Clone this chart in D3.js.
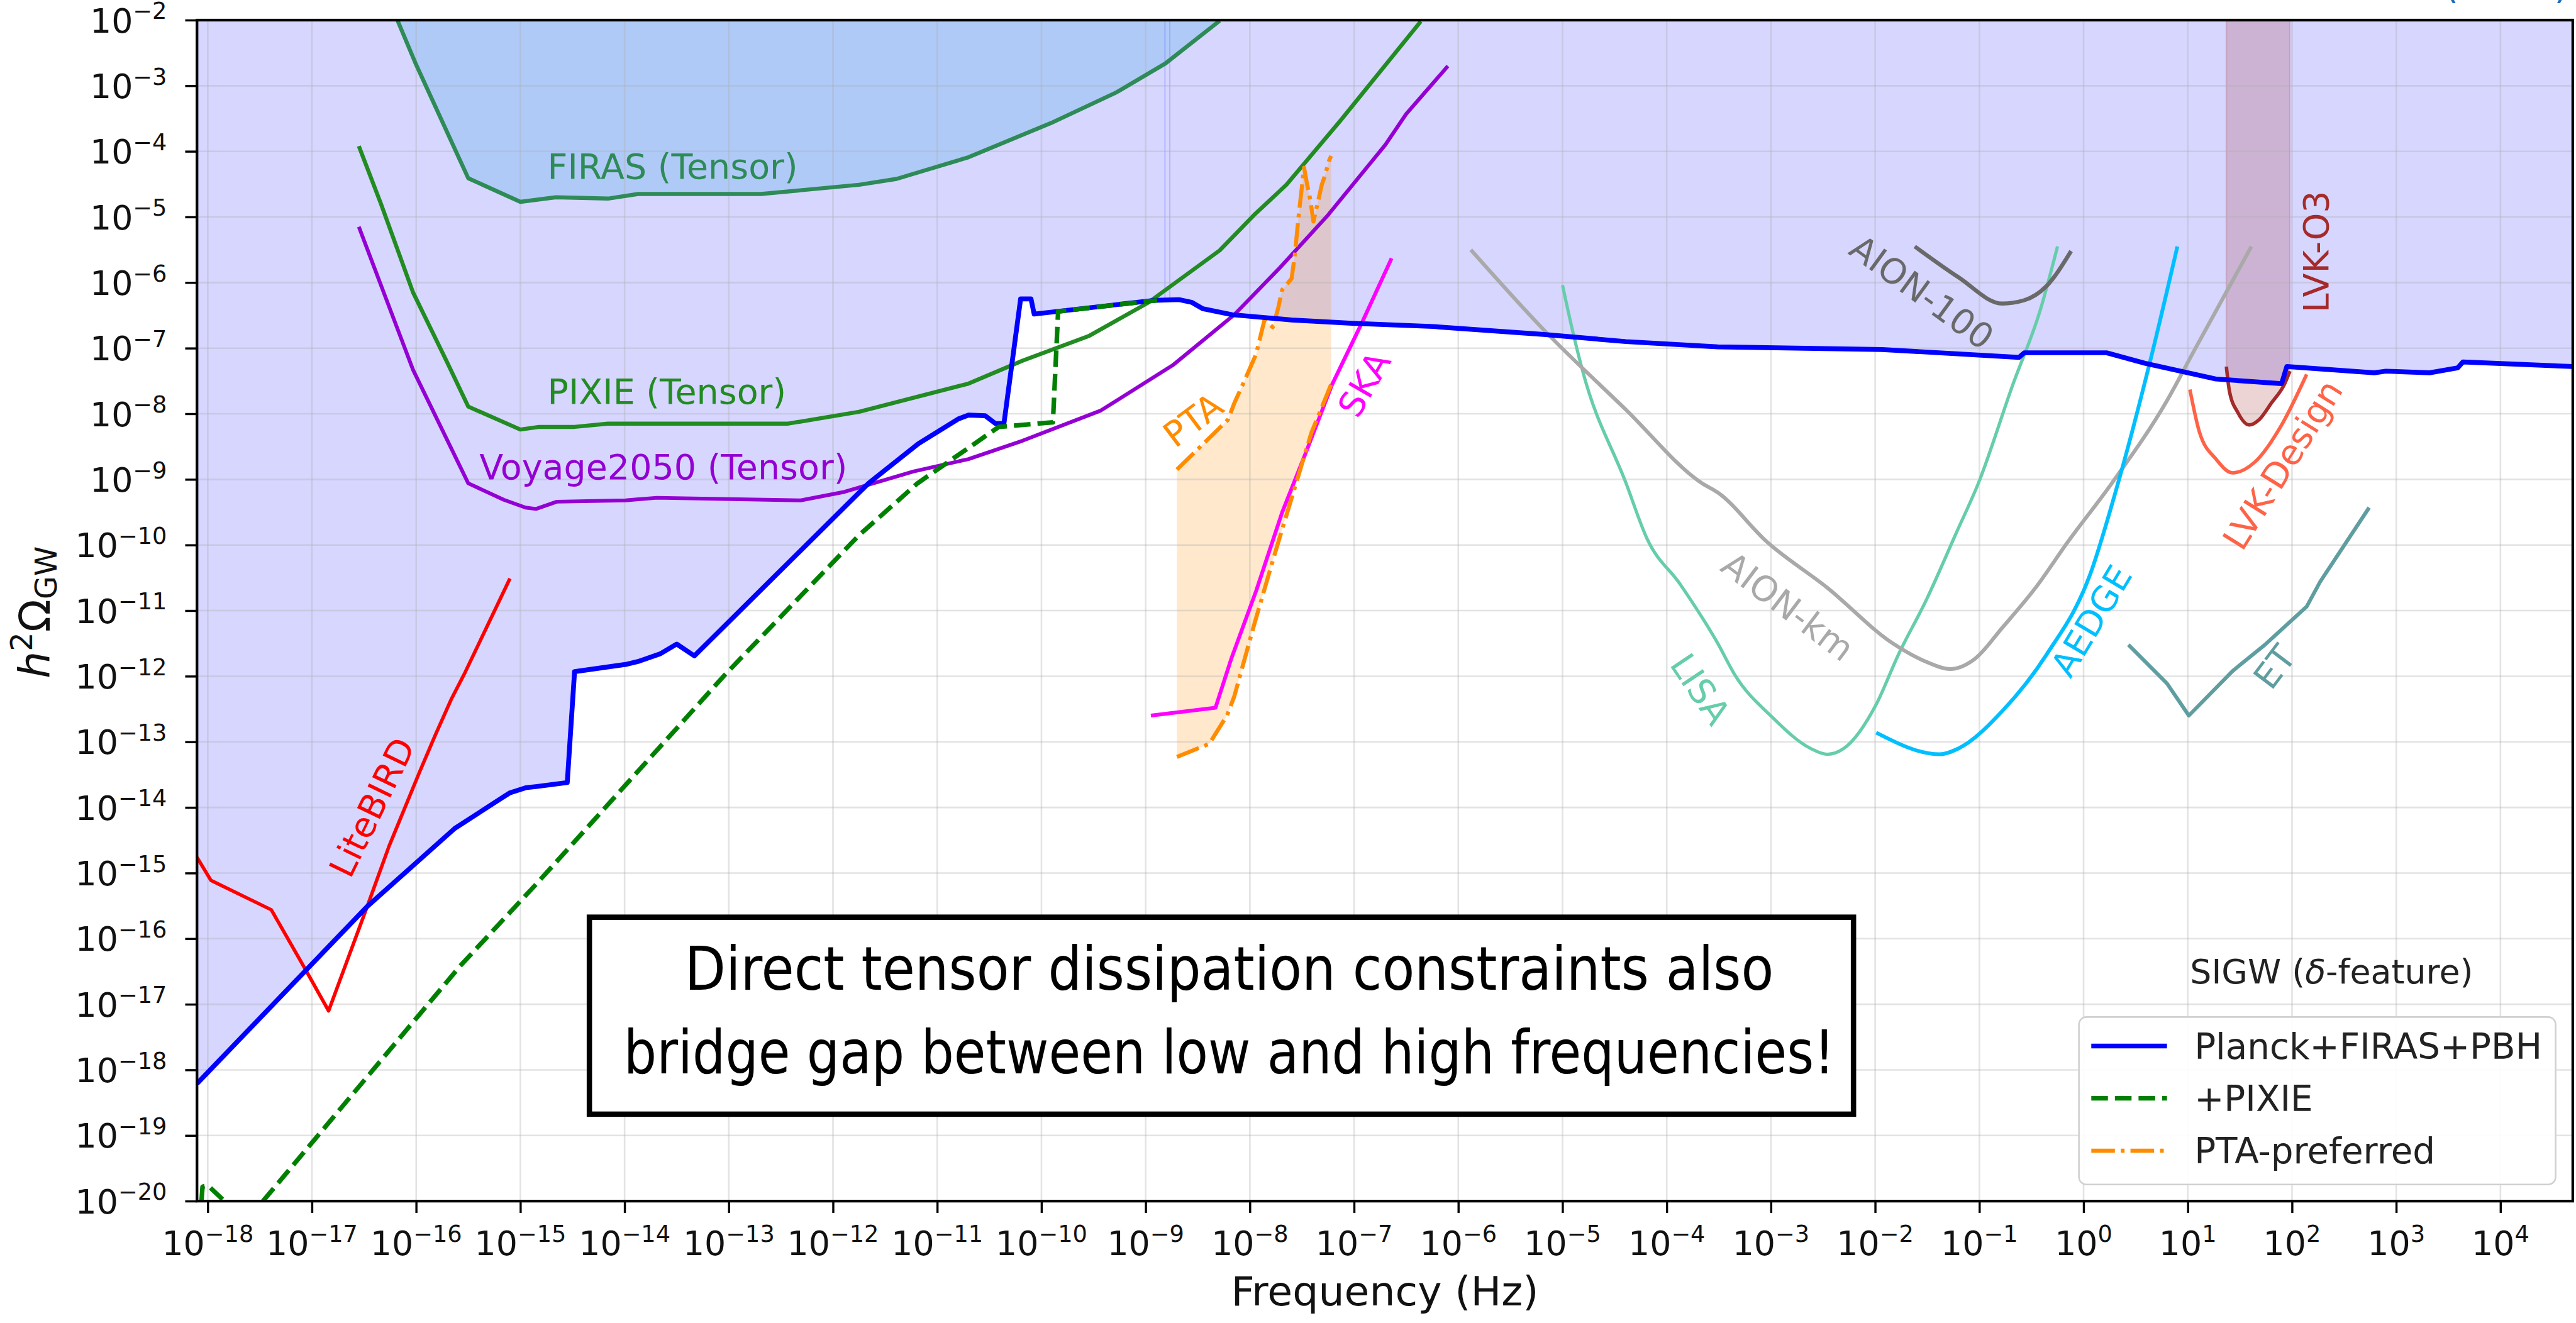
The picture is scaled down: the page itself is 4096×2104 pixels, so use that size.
<!DOCTYPE html>
<html>
<head>
<meta charset="utf-8">
<script src="https://cdn.jsdelivr.net/npm/d3@7"></script>
<style>
  html, body { margin: 0; padding: 0; background: #fff; }
  svg { display: block; }
  text { font-family: "DejaVu Sans", sans-serif; }
</style>
</head>
<body>
<div id="chart"></div>
<script>
// every point is [log10 f (Hz), log10 h^2 Omega_GW]
const planckFirasPbh = [
  [-18.103, -18.21], [-16.47, -15.51], [-15.63, -14.32], [-15.105, -13.78], [-14.95, -13.7],
  [-14.84, -13.68], [-14.55, -13.62], [-14.51, -12.65], [-14.48, -11.93], [-13.99, -11.82],
  [-13.86, -11.77], [-13.66, -11.66], [-13.5, -11.51], [-13.33, -11.69], [-11.66, -9.06],
  [-11.18, -8.455], [-10.8, -8.08], [-10.7, -8.02], [-10.54, -8.03], [-10.44, -8.15],
  [-10.36, -8.15], [-10.2, -6.25], [-10.1, -6.25], [-10.07, -6.48], [-8.91, -6.27],
  [-8.68, -6.26], [-8.56, -6.3], [-8.45, -6.4], [-8.17, -6.49], [-7.6, -6.57],
  [-7.02, -6.62], [-6.24, -6.67], [-5.18, -6.79], [-4.39, -6.9], [-3.51, -6.98],
  [-1.935, -7.02], [-0.62, -7.14], [-0.57, -7.07], [0.22, -7.07], [0.59, -7.23],
  [1.27, -7.47], [1.9, -7.54], [1.95, -7.28], [2.79, -7.375], [2.9, -7.35],
  [3.32, -7.375], [3.59, -7.3], [3.64, -7.21], [4.694, -7.28]
];
const pixieDashed = [
  [-17.47, -20.0], [-15.58, -16.42], [-14.843, -15.16], [-13.036, -11.976], [-11.75, -9.85],
  [-11.19, -9.06], [-10.41, -8.2], [-9.89, -8.13], [-9.84, -6.44], [-8.89, -6.27]
];
const pixieDashedTail = [[-18.06, -20.0], [-18.05, -19.78], [-18.0, -19.76], [-17.84, -20.0]];
const firasTensor = [
  [-16.18, -2.0], [-16.0, -2.68], [-15.5, -4.41], [-15.0, -4.77], [-14.66, -4.7],
  [-14.16, -4.72], [-13.87, -4.65], [-12.69, -4.65], [-11.75, -4.51], [-11.39, -4.42],
  [-10.7, -4.09], [-9.91, -3.57], [-9.28, -3.1], [-8.81, -2.66], [-8.29, -2.01]
];
const pixieTensor = [
  [-16.55, -3.92], [-16.34, -4.79], [-16.03, -6.15], [-15.71, -7.19], [-15.5, -7.89],
  [-15.0, -8.24], [-14.82, -8.2], [-14.48, -8.2], [-14.16, -8.15], [-12.43, -8.15],
  [-11.75, -7.97], [-10.7, -7.54], [-10.18, -7.19], [-9.54, -6.81], [-8.98, -6.31],
  [-8.29, -5.51], [-7.96, -4.97], [-7.65, -4.51], [-7.13, -3.53], [-6.36, -2.02]
];
const voyage2050 = [
  [-16.55, -5.15], [-16.03, -7.33], [-15.5, -9.06], [-15.16, -9.31], [-14.95, -9.43],
  [-14.85, -9.45], [-14.65, -9.34], [-13.99, -9.32], [-13.69, -9.28], [-12.31, -9.32],
  [-11.89, -9.19], [-11.23, -8.88], [-10.7, -8.69], [-10.18, -8.41], [-9.43, -7.95],
  [-8.74, -7.26], [-8.15, -6.49], [-7.71, -5.77], [-7.25, -4.97], [-6.7, -3.9],
  [-6.5, -3.43], [-6.1, -2.7]
];
const liteBird = [
  [-18.103, -14.76], [-17.97, -15.11], [-17.39, -15.56], [-17.08, -16.42], [-16.84, -17.1],
  [-16.47, -15.51], [-16.26, -14.59], [-15.97, -13.47], [-15.82, -12.91], [-15.66, -12.34],
  [-15.53, -11.94], [-15.1, -10.51]
];
const ptaUpper = [
  [-8.7, -8.85], [-8.21, -8.09], [-8.15, -7.84], [-8.05, -7.49], [-7.94, -7.09],
  [-7.86, -6.57], [-7.78, -6.68], [-7.73, -6.4], [-7.69, -6.11], [-7.6, -5.94],
  [-7.57, -5.6], [-7.53, -4.95], [-7.48, -4.25], [-7.45, -4.51], [-7.42, -4.74],
  [-7.39, -5.07], [-7.35, -4.79], [-7.31, -4.51], [-7.28, -4.37], [-7.24, -4.14], [-7.22, -4.07]
];
const ptaLower = [
  [-8.7, -13.23], [-8.39, -13.03], [-8.22, -12.6], [-8.15, -12.31], [-7.96, -11.22],
  [-7.76, -10.13], [-7.53, -8.92], [-7.41, -8.29], [-7.22, -7.55]
];
const ska = [
  [-8.95, -12.6], [-8.33, -12.48], [-8.18, -11.74], [-7.94, -10.7], [-7.69, -9.5],
  [-7.46, -8.58], [-7.21, -7.55], [-6.93, -6.63], [-6.64, -5.63]
];
const lisa = [
  [-5.0, -6.04], [-4.92, -6.62], [-4.81, -7.33], [-4.39, -9.06], [-4.19, -9.9],
  [-3.87, -10.6], [-3.51, -11.5], [-3.35, -11.97], [-2.99, -12.62], [-2.62, -13.1],
  [-2.46, -13.19], [-2.3, -13.1], [-1.99, -12.43], [-1.78, -11.68], [-1.51, -10.84],
  [-1.22, -9.81], [-1.01, -9.06], [-0.68, -7.56], [-0.41, -6.39], [-0.25, -5.45]
];
const aionKm = [
  [-5.88, -5.5], [-5.18, -6.72], [-4.39, -7.94], [-3.66, -9.06], [-3.51, -9.2],
  [-3.04, -9.95], [-2.46, -10.65], [-1.83, -11.5], [-1.51, -11.78], [-1.28, -11.89],
  [-1.04, -11.73], [-0.78, -11.26], [-0.46, -10.65], [-0.15, -9.95], [0.27, -9.06],
  [0.8, -7.8], [1.06, -7.04], [1.61, -5.45]
];
const aion100 = [[-1.62, -5.45], [-1.2, -5.92], [-0.78, -6.32], [-0.57, -6.27], [-0.36, -6.06], [-0.12, -5.52]];
const aedge = [
  [-1.99, -12.86], [-1.38, -13.19], [-1.2, -13.1], [-0.78, -12.53], [-0.36, -11.68],
  [0.06, -10.46], [0.33, -9.06], [0.64, -7.19], [0.9, -5.45]
];
const et = [[0.43, -11.52], [0.8, -12.11], [1.01, -12.6], [1.43, -11.92], [1.74, -11.52], [2.14, -10.94], [2.27, -10.56], [2.74, -9.43]];
const lvkDesign = [[1.02, -7.63], [1.11, -8.27], [1.27, -8.69], [1.43, -8.9], [1.64, -8.74], [1.9, -8.17], [2.14, -7.4]];
const lvkO3 = [[1.37, -7.28], [1.4, -7.66], [1.48, -7.98], [1.59, -8.17], [1.69, -8.08], [1.8, -7.84], [1.93, -7.54], [1.98, -7.35]];
// faint seams of the shaded region
const fillSeams = [[-8.815, -6.26], [-8.768, -6.26]];

const xTickExps = [-18, -17, -16, -15, -14, -13, -12, -11, -10, -9, -8, -7, -6, -5, -4, -3, -2, -1, 0, 1, 2, 3, 4];
const yTickExps = [-20, -19, -18, -17, -16, -15, -14, -13, -12, -11, -10, -9, -8, -7, -6, -5, -4, -3, -2];
const xDomainExp = [-18.103, 4.694];
const yDomainExp = [-20, -2];

const legendLabels = ['Planck+FIRAS+PBH', '+PIXIE', 'PTA-preferred'];
const noteLines = ['Direct tensor dissipation constraints also', 'bridge gap between low and high frequencies!'];

// ---- layout (in reference pixels, scaled down as a whole) ----
const svgWidth = 4096;
const svgHeight = 2104;
const k = svgWidth / 4799;
const plot = { left: 367, right: 4793, top: 37.5, bottom: 2238 };

const svg = d3.select('#chart').append('svg').attr('width', svgWidth).attr('height', svgHeight);
const root = svg.append('g').attr('transform', `scale(${k})`);

const x = d3.scaleLog().domain(xDomainExp.map((e) => 10 ** e)).range([plot.left, plot.right]);
const y = d3.scaleLog().domain(yDomainExp.map((e) => 10 ** e)).range([plot.bottom, plot.top]);
const px = (d) => x(10 ** d[0]);
const py = (d) => y(10 ** d[1]);
const yTop = y(10 ** yDomainExp[1]);

root.append('clipPath').attr('id', 'plotClip')
  .append('rect')
  .attr('x', plot.left).attr('y', plot.top)
  .attr('width', plot.right - plot.left).attr('height', plot.bottom - plot.top);

const fills = root.append('g').attr('clip-path', 'url(#plotClip)');
const topArea = d3.area().x(px).y0(yTop).y1(py);
const line = d3.line().x(px).y(py);
const smoothLine = d3.line().x(px).y(py).curve(d3.curveMonotoneX);

fills.append('path').attr('d', topArea(planckFirasPbh)).attr('fill', 'rgba(0,0,255,0.16)');
fills.append('path').attr('d', topArea(firasTensor)).attr('fill', 'rgba(100,180,230,0.33)');
fills.append('path')
  .attr('d', line(ptaUpper.concat(ptaLower.slice().reverse())) + 'Z')
  .attr('fill', 'rgba(255,140,0,0.2)');
fills.append('path').attr('d', topArea.curve(d3.curveMonotoneX)(lvkO3))
  .attr('fill', 'rgba(165,42,42,0.2)')
  .attr('stroke', 'rgba(165,42,42,0.15)').attr('stroke-width', 3);
fills.selectAll('.seam').data(fillSeams).enter().append('line')
  .attr('x1', px).attr('x2', px).attr('y1', yTop).attr('y2', py)
  .attr('stroke', 'rgba(80,80,255,0.3)').attr('stroke-width', 2);

// grid
const grid = root.append('g').attr('clip-path', 'url(#plotClip)');
grid.selectAll('.gx').data(xTickExps).enter().append('line')
  .attr('x1', (e) => x(10 ** e)).attr('x2', (e) => x(10 ** e))
  .attr('y1', plot.top).attr('y2', plot.bottom)
  .attr('stroke', '#b0b0b0').attr('stroke-opacity', 0.35).attr('stroke-width', 3);
grid.selectAll('.gy').data(yTickExps).enter().append('line')
  .attr('y1', (e) => y(10 ** e)).attr('y2', (e) => y(10 ** e))
  .attr('x1', plot.left).attr('x2', plot.right)
  .attr('stroke', '#b0b0b0').attr('stroke-opacity', 0.35).attr('stroke-width', 3);

// curves
const curves = [
  { data: firasTensor, color: '#2e8b57', width: 7.5 },
  { data: pixieTensor, color: '#228b22', width: 7.5 },
  { data: voyage2050, color: '#9400d3', width: 7 },
  { data: liteBird, color: '#ff0000', width: 6.5 },
  { data: lisa, color: '#66cdaa', width: 6, smooth: true },
  { data: aionKm, color: '#a9a9a9', width: 7, smooth: true },
  { data: aion100, color: '#696969', width: 7.5, smooth: true },
  { data: aedge, color: '#00bfff', width: 7, smooth: true },
  { data: et, color: '#5f9ea0', width: 7 },
  { data: lvkDesign, color: '#ff6347', width: 6.5, smooth: true },
  { data: lvkO3, color: '#a52a2a', width: 6.5, smooth: true },
  { data: ska, color: '#ff00ff', width: 7 },
  { data: ptaUpper, color: '#ff8c00', width: 7.5, dash: '44,11,7,11' },
  { data: ptaLower, color: '#ff8c00', width: 7.5, dash: '44,11,7,11' },
  { data: planckFirasPbh, color: '#0000ff', width: 9 },
  { data: pixieDashed, color: '#008000', width: 8.5, dash: '31,13' },
  { data: pixieDashedTail, color: '#008000', width: 8.5, dash: '31,13' }
];
const lines = root.append('g').attr('clip-path', 'url(#plotClip)');
curves.forEach((c) => {
  lines.append('path').attr('d', (c.smooth ? smoothLine : line)(c.data))
    .attr('fill', 'none').attr('stroke', c.color).attr('stroke-width', c.width)
    .attr('stroke-linejoin', 'round')
    .attr('stroke-dasharray', c.dash || null);
});

// curve labels
const curveLabels = [
  { text: 'FIRAS (Tensor)', at: [-14.74, -4.417], angle: 0, color: '#2e8b57', anchor: 'start' },
  { text: 'PIXIE (Tensor)', at: [-14.74, -7.845], angle: 0, color: '#228b22', anchor: 'start' },
  { text: 'Voyage2050 (Tensor)', at: [-15.394, -8.998], angle: 0, color: '#9400d3', anchor: 'start' },
  { text: 'LiteBIRD', at: [-16.42, -14.0], angle: -64, color: '#ff0000' },
  { text: 'PTA', at: [-8.543, -8.098], angle: -37, color: '#ff8c00' },
  { text: 'SKA', at: [-6.9, -7.55], angle: -60, color: '#ff00ff' },
  { text: 'AION-100', at: [-1.554, -6.15], angle: 36, color: '#696969' },
  { text: 'LVK-O3', at: [2.232, -5.53], angle: -90, color: '#a52a2a' },
  { text: 'LVK-Design', at: [1.912, -8.777], angle: -58, color: '#ff6347' },
  { text: 'AION-km', at: [-2.84, -10.94], angle: 37, color: '#a9a9a9' },
  { text: 'LISA', at: [-3.68, -12.2], angle: 56, color: '#66cdaa' },
  { text: 'AEDGE', at: [0.078, -11.16], angle: -59, color: '#00bfff' },
  { text: 'ET', at: [1.835, -11.86], angle: -53, color: '#5f9ea0' }
];
curveLabels.forEach((l) => {
  const t = root.append('text')
    .attr('transform', `translate(${px(l.at)},${py(l.at)}) rotate(${l.angle})`)
    .attr('font-size', 65).attr('fill', l.color)
    .attr('text-anchor', l.anchor || 'middle')
    .text(l.text);
  if (!l.anchor) t.attr('dominant-baseline', 'central');
});

// spines and ticks
const axisColor = '#000';
const yAxis = d3.axisLeft(y).tickValues(yTickExps.map((e) => 10 ** e)).tickSize(22).tickFormat('');
const xAxis = d3.axisBottom(x).tickValues(xTickExps.map((e) => 10 ** e)).tickSize(22).tickFormat('');
const gy = root.append('g').attr('transform', `translate(${plot.left},0)`).call(yAxis);
const gx = root.append('g').attr('transform', `translate(0,${plot.bottom})`).call(xAxis);
[gx, gy].forEach((g) => {
  g.select('.domain').remove();
  g.selectAll('.tick line').attr('stroke', axisColor).attr('stroke-width', 4);
});
root.append('rect')
  .attr('x', plot.left).attr('y', plot.top)
  .attr('width', plot.right - plot.left).attr('height', plot.bottom - plot.top)
  .attr('fill', 'none').attr('stroke', axisColor).attr('stroke-width', 5);

function powerLabel(sel, e) {
  sel.append('tspan').text('10');
  sel.append('tspan').attr('font-size', 43).attr('dy', -25)
    .text(e < 0 ? '\u2212' + (-e) : String(e));
}
root.selectAll('.ylab').data(yTickExps).enter().append('text')
  .attr('x', 311).attr('y', (e) => y(10 ** e) + 23)
  .attr('font-size', 63).attr('text-anchor', 'end').attr('fill', '#111')
  .each(function (e) { powerLabel(d3.select(this), e); });
root.selectAll('.xlab').data(xTickExps).enter().append('text')
  .attr('x', (e) => x(10 ** e)).attr('y', 2339)
  .attr('font-size', 63).attr('text-anchor', 'middle').attr('fill', '#111')
  .each(function (e) { powerLabel(d3.select(this), e); });

// axis titles
root.append('text')
  .attr('x', (plot.left + plot.right) / 2).attr('y', 2432)
  .attr('font-size', 76).attr('text-anchor', 'middle').attr('fill', '#111')
  .text('Frequency (Hz)');
const yTitle = root.append('text')
  .attr('transform', 'translate(92,1141) rotate(-90)')
  .attr('font-size', 80).attr('text-anchor', 'middle').attr('fill', '#111');
yTitle.append('tspan').attr('font-style', 'italic').text('h');
yTitle.append('tspan').attr('font-size', 56).attr('dy', -32).text('2');
yTitle.append('tspan').attr('dy', 32).text('\u03a9');
yTitle.append('tspan').attr('font-size', 56).attr('dy', 14).text('GW');

// cut-off reference text at the very top
root.append('text').attr('x', 4553).attr('y', -4)
  .attr('font-size', 70).attr('fill', '#1a6fc4').text('(2023)');

// annotation box
root.append('rect')
  .attr('x', 1098).attr('y', 1709).attr('width', 2355).attr('height', 367)
  .attr('fill', '#fff').attr('stroke', '#000').attr('stroke-width', 10);
const noteWidths = [2029, 2256];
noteLines.forEach((s, i) => {
  root.append('text')
    .attr('x', 2290).attr('y', 1844 + i * 156)
    .attr('font-family', 'Lato, sans-serif').attr('font-size', 112)
    .attr('text-anchor', 'middle').attr('fill', '#000')
    .attr('textLength', noteWidths[i]).attr('lengthAdjust', 'spacingAndGlyphs')
    .text(s);
});

// legend
const legendStyles = [
  { color: '#0000ff', width: 9, dash: null },
  { color: '#008000', width: 8.5, dash: '31,13' },
  { color: '#ff8c00', width: 7.5, dash: '44,11,7,11' }
];
const title = root.append('text').attr('x', 4080).attr('y', 1832)
  .attr('font-size', 63).attr('fill', '#222');
title.append('tspan').text('SIGW (');
title.append('tspan').attr('font-style', 'italic').text('\u03b4');
title.append('tspan').text('-feature)');

root.append('rect')
  .attr('x', 3873).attr('y', 1895).attr('width', 888).attr('height', 312).attr('rx', 14)
  .attr('fill', '#fff').attr('fill-opacity', 0.9)
  .attr('stroke', '#d0d0d0').attr('stroke-width', 3);
legendLabels.forEach((lab, i) => {
  const cy = 1949 + i * 97.5;
  const st = legendStyles[i];
  root.append('line')
    .attr('x1', 3896).attr('x2', 4037).attr('y1', cy).attr('y2', cy)
    .attr('stroke', st.color).attr('stroke-width', st.width)
    .attr('stroke-dasharray', st.dash);
  root.append('text').attr('x', 4088).attr('y', cy + 24)
    .attr('font-size', 66).attr('fill', '#222').text(lab);
});
</script>
</body>
</html>
